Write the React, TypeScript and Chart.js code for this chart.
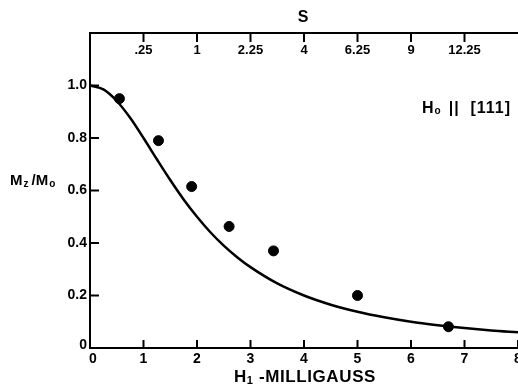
import React, { useEffect, useRef } from "react";
import { Chart, registerables } from "chart.js";

Chart.register(...registerables);

// Measured points (H1 in milligauss, Mz/M0)
const pointH = [0.55, 1.28, 1.9, 2.6, 3.43, 5.0, 6.7];
const pointM = [0.95, 0.79, 0.615, 0.463, 0.37, 0.2, 0.081];

// Theory curve
const curveH = [0, 0.25, 0.5, 0.75, 1.0, 1.25, 1.5, 1.75, 2.0, 2.25, 2.5, 2.75, 3.0, 3.5, 4.0, 4.5, 5.0, 5.5, 6.0, 6.5, 7.0, 7.5, 8.0];
const curveM = [1.0, 0.985, 0.941, 0.877, 0.8, 0.719, 0.64, 0.566, 0.5, 0.441, 0.39, 0.346, 0.308, 0.246, 0.2, 0.165, 0.138, 0.117, 0.1, 0.087, 0.076, 0.067, 0.06];

// Bottom axis ticks
const xTickValues = [0, 1, 2, 3, 4, 5, 6, 7, 8];
const xTickLabels = ["0", "1", "2", "3", "4", "5", "6", "7", "8"];
// Left axis ticks
const yTickValues = [0, 0.2, 0.4, 0.6, 0.8, 1.0];
const yTickLabels = ["0", "0.2", "0.4", "0.6", "0.8", "1.0"];
// Top (S) axis ticks, placed at H values
const topTickPositions = [1, 2, 3, 4, 5, 6, 7];
const topTickLabels = [".25", "1", "2.25", "4", "6.25", "9", "12.25"];

const FONT = '"Liberation Sans", Arial, sans-serif';

const axesPlugin = {
  id: "customAxes",
  afterDraw(chart: any) {
    const ctx = chart.ctx as CanvasRenderingContext2D;
    const { left, right, top, bottom } = chart.chartArea;
    const xs = chart.scales.x;
    const ys = chart.scales.y;
    ctx.save();
    ctx.strokeStyle = "#000";
    ctx.fillStyle = "#000";
    ctx.lineCap = "butt";

    // frame lines: left, bottom, top
    ctx.lineWidth = 2;
    ctx.beginPath();
    ctx.moveTo(left, top);
    ctx.lineTo(left, bottom + 1);
    ctx.stroke();
    ctx.lineWidth = 2.2;
    ctx.beginPath();
    ctx.moveTo(left - 1, bottom);
    ctx.lineTo(right, bottom);
    ctx.stroke();
    ctx.lineWidth = 2;
    ctx.beginPath();
    ctx.moveTo(left - 1, top);
    ctx.lineTo(right, top);
    ctx.stroke();

    // y ticks (inward)
    ctx.lineWidth = 2;
    ctx.font = `bold 14px ${FONT}`;
    ctx.textAlign = "right";
    ctx.textBaseline = "middle";
    yTickValues.forEach((v, i) => {
      const py = ys.getPixelForValue(v);
      if (v !== 0) {
        ctx.beginPath();
        ctx.moveTo(left, py);
        ctx.lineTo(left + 9, py);
        ctx.stroke();
      }
      ctx.fillText(yTickLabels[i], left - 3, v === 0 ? py - 3 : py);
    });

    // x ticks (inward, upward)
    ctx.textAlign = "center";
    ctx.textBaseline = "middle";
    xTickValues.forEach((v, i) => {
      const px = xs.getPixelForValue(v);
      if (v !== 0) {
        ctx.beginPath();
        ctx.moveTo(px, bottom);
        ctx.lineTo(px, bottom - 8);
        ctx.stroke();
      }
      ctx.fillText(xTickLabels[i], v === 0 ? px + 3 : px, bottom + 11);
    });

    // top ticks (inward, downward) with labels inside
    ctx.font = `bold 13px ${FONT}`;
    topTickPositions.forEach((v, i) => {
      const px = xs.getPixelForValue(v);
      ctx.beginPath();
      ctx.moveTo(px, top);
      ctx.lineTo(px, top + 9);
      ctx.stroke();
      ctx.fillText(topTickLabels[i], px, top + 17);
    });

    // top axis title S
    ctx.font = `bold 16px ${FONT}`;
    ctx.fillText("S", xs.getPixelForValue(4) - 1, 18);

    // x axis title: H1 -MILLIGAUSS
    {
      const big = `bold 17px ${FONT}`;
      const sub = `bold 11px ${FONT}`;
      ctx.textAlign = "left";
      ctx.textBaseline = "alphabetic";
      (ctx as any).letterSpacing = "0.6px";
      ctx.font = big;
      const wH = ctx.measureText("H").width;
      const rest = " -MILLIGAUSS";
      const wRest = ctx.measureText(rest).width;
      ctx.font = sub;
      const wSub = ctx.measureText("1").width;
      const total = wH + wSub + wRest;
      let x0 = 305 - total / 2;
      const base = 382;
      ctx.font = big;
      ctx.fillText("H", x0, base);
      x0 += wH;
      ctx.font = sub;
      ctx.fillText("1", x0, base + 2);
      x0 += wSub;
      ctx.font = big;
      ctx.fillText(rest, x0, base);
      (ctx as any).letterSpacing = "0px";
    }

    // y axis title: Mz/M0
    {
      const big = `bold 15px ${FONT}`;
      const sub = `bold 10px ${FONT}`;
      ctx.textAlign = "left";
      ctx.textBaseline = "alphabetic";
      let x0 = 10;
      const base = 185;
      ctx.font = big;
      ctx.fillText("M", x0, base);
      x0 += ctx.measureText("M").width + 1;
      ctx.font = sub;
      ctx.fillText("z", x0, base + 2);
      x0 += ctx.measureText("z").width + 3;
      ctx.font = big;
      ctx.fillText("/M", x0, base);
      x0 += ctx.measureText("/M").width + 1;
      ctx.font = sub;
      ctx.fillText("o", x0, base + 2);
    }

    // annotation: H0 || [111]
    {
      const big = `bold 16px ${FONT}`;
      const sub = `bold 10px ${FONT}`;
      ctx.textAlign = "left";
      ctx.textBaseline = "alphabetic";
      let x0 = 422;
      const base = 113;
      ctx.font = big;
      ctx.fillText("H", x0, base);
      x0 += ctx.measureText("H").width + 1;
      ctx.font = sub;
      ctx.fillText("o", x0, base + 1);
      x0 += ctx.measureText("o").width + 8;
      ctx.font = big;
      (ctx as any).letterSpacing = "1px";
      ctx.fillText("||  [111]", x0, base);
      (ctx as any).letterSpacing = "0px";
    }

    ctx.restore();
  },
};

export default function App() {
  const ref = useRef<HTMLCanvasElement | null>(null);
  useEffect(() => {
    if (!ref.current) return;
    const chart = new Chart(ref.current, {
      type: "line",
      data: {
        datasets: [
          {
            type: "line",
            label: "theory",
            data: curveH.map((h, i) => ({ x: h, y: curveM[i] })),
            borderColor: "#000",
            borderWidth: 2.5,
            pointRadius: 0,
            tension: 0.4,
            cubicInterpolationMode: "monotone",
            fill: false,
          },
          {
            type: "scatter",
            label: "measured",
            data: pointH.map((h, i) => ({ x: h, y: pointM[i] })),
            backgroundColor: "#000",
            borderColor: "#000",
            pointRadius: 5,
            showLine: false,
          } as any,
        ],
      },
      options: {
        animation: false,
        responsive: false,
        maintainAspectRatio: false,
        layout: { autoPadding: false, padding: { left: 90, right: 0, top: 33, bottom: 36 } },
        plugins: { legend: { display: false }, tooltip: { enabled: false }, title: { display: false } },
        scales: {
          x: { type: "linear", min: 0, max: 8, display: false },
          y: { type: "linear", min: 0, max: 1.2, display: false },
        },
      },
      plugins: [axesPlugin],
    });
    return () => chart.destroy();
  }, []);
  return (
    <div style={{ position: "fixed", left: 0, top: 0, width: 518, height: 384, background: "#fff" }}>
      <canvas ref={ref} width={518} height={384} style={{ width: 518, height: 384, display: "block" }} />
    </div>
  );
}
